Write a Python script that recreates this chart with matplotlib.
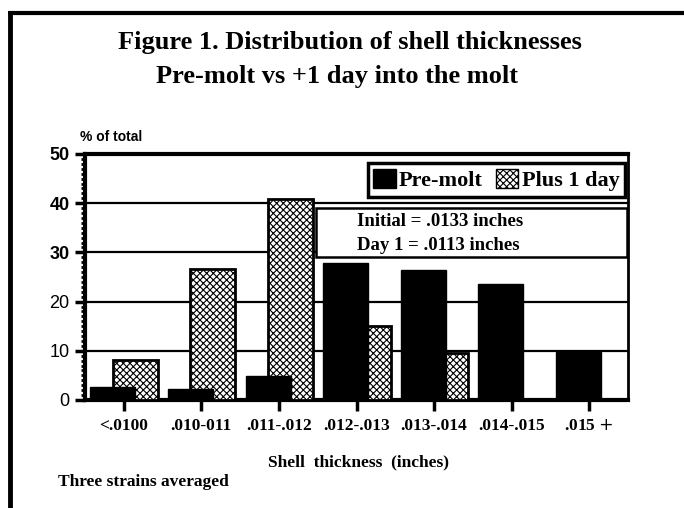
import matplotlib
matplotlib.use("Agg")
import matplotlib.pyplot as plt
import numpy as np
from matplotlib.lines import Line2D
from matplotlib.patches import Rectangle, Patch
from matplotlib.ticker import MultipleLocator

categories = ["<.0100", ".010-011", ".011-.012", ".012-.013", ".013-.014", ".014-.015", ".015 $+$"]
pre_molt = [2.7, 2.3, 4.9, 27.8, 26.5, 23.6, 9.8]
plus_1_day = [8.2, 26.6, 40.9, 15.0, 9.5, 0.0, 0.0]
y_ticks = [0, 10, 20, 30, 40, 50]

W, H = 684, 508
SERIF = "Liberation Serif"
SANS = "Liberation Sans"
plt.rcParams["hatch.linewidth"] = 0.8

fig = plt.figure(figsize=(W / 100, H / 100), dpi=100)


def px(x, y):
    # pixel coords (from top-left) -> figure fraction
    return x / W, 1 - y / H


# page frame (left and top only)
fig.add_artist(Line2D([10 / W, 10 / W], [0, 1 - 12 / H], transform=fig.transFigure,
                      color="black", lw=3.5, solid_capstyle="butt"))
fig.add_artist(Line2D([8 / W, 1], [1 - 12.5 / H, 1 - 12.5 / H], transform=fig.transFigure,
                      color="black", lw=3, solid_capstyle="butt"))

# titles
fig.text(*px(350, 42), "Figure 1. Distribution of shell thicknesses", ha="center", va="center",
         fontsize=19, fontweight="bold", family=SERIF)
fig.text(*px(337, 76), "Pre-molt vs +1 day into the molt", ha="center", va="center",
         fontsize=19, fontweight="bold", family=SERIF)

left, right, top, bottom = 85, 628, 154, 400
ax = fig.add_axes([left / W, 1 - bottom / H, (right - left) / W, (bottom - top) / H])

x = np.arange(len(categories))
bw = 0.58
ax.bar(x + 0.15, plus_1_day, bw, color="white", edgecolor="black", hatch="xxxxx",
       linewidth=2, zorder=3)
ax.bar(x - 0.14, pre_molt, bw, color="black", edgecolor="black", linewidth=1, zorder=4)

ax.set_xlim(-0.5, len(categories) - 0.5)
ax.set_ylim(0, 50)
ax.set_yticks(y_ticks)
ax.yaxis.set_minor_locator(MultipleLocator(1))
for v in y_ticks[1:-1]:
    ax.axhline(v, color="black", lw=1.6, zorder=1)

for side, w in [("left", 3), ("bottom", 3), ("top", 3), ("right", 2)]:
    ax.spines[side].set_linewidth(w)

ax.tick_params(axis="y", which="major", direction="out", length=7, width=2.5, pad=4)
ax.tick_params(axis="y", which="minor", direction="out", length=3, width=2)
ax.tick_params(axis="x", which="major", direction="out", length=8, width=2.5, pad=5)

ax.set_xticks(x)
ax.set_xticklabels(categories, fontsize=12.5, fontweight="bold", family=SERIF)
ax.set_yticklabels([str(v) for v in y_ticks])
for lab, v in zip(ax.get_yticklabels(), y_ticks):
    if v >= 30:
        lab.set_fontproperties({"family": SANS, "weight": "bold", "size": 13})
    else:
        lab.set_fontproperties({"family": SANS, "weight": "normal", "size": 13})

fig.text(*px(80, 137), "% of total", ha="left", va="center",
         fontsize=10, fontweight="bold", family=SANS)

# legend
handles = [Patch(facecolor="black", edgecolor="black"),
           Patch(facecolor="white", edgecolor="black", hatch="xxxxx")]
leg = ax.legend(handles, ["Pre-molt", "Plus 1 day"], ncol=2, loc="upper right",
                bbox_to_anchor=((625 - left) / (right - left), (bottom - 163) / (bottom - top)),
                frameon=True, fancybox=False, edgecolor="black", framealpha=1,
                prop={"family": SERIF, "weight": "bold", "size": 16},
                handlelength=1.0, handleheight=1.0, handletextpad=0.15,
                columnspacing=0.6, borderpad=0.25, borderaxespad=0)
leg.get_frame().set_linewidth(2.5)
leg.set_zorder(6)

# info box
bx0, bx1, by0, by1 = 316, 627, 208, 257
fig.add_artist(Rectangle(px(bx0, by1), (bx1 - bx0) / W, (by1 - by0) / H, transform=fig.transFigure,
                         facecolor="white", edgecolor="black", lw=1.8, zorder=5))
fig.text(*px(357, 222), "Initial = .0133 inches", ha="left", va="center", fontsize=13.5,
         fontweight="bold", family=SERIF, zorder=6)
fig.text(*px(357, 245), "Day 1 = .0113 inches", ha="left", va="center", fontsize=13.5,
         fontweight="bold", family=SERIF, zorder=6)

fig.text(*px(359, 462), "Shell  thickness  (inches)", ha="center", va="center", fontsize=12.5,
         fontweight="bold", family=SERIF)
fig.text(*px(58, 482), "Three strains averaged", ha="left", va="center", fontsize=12.5,
         fontweight="bold", family=SERIF)

fig.savefig("out.png", dpi=100)
